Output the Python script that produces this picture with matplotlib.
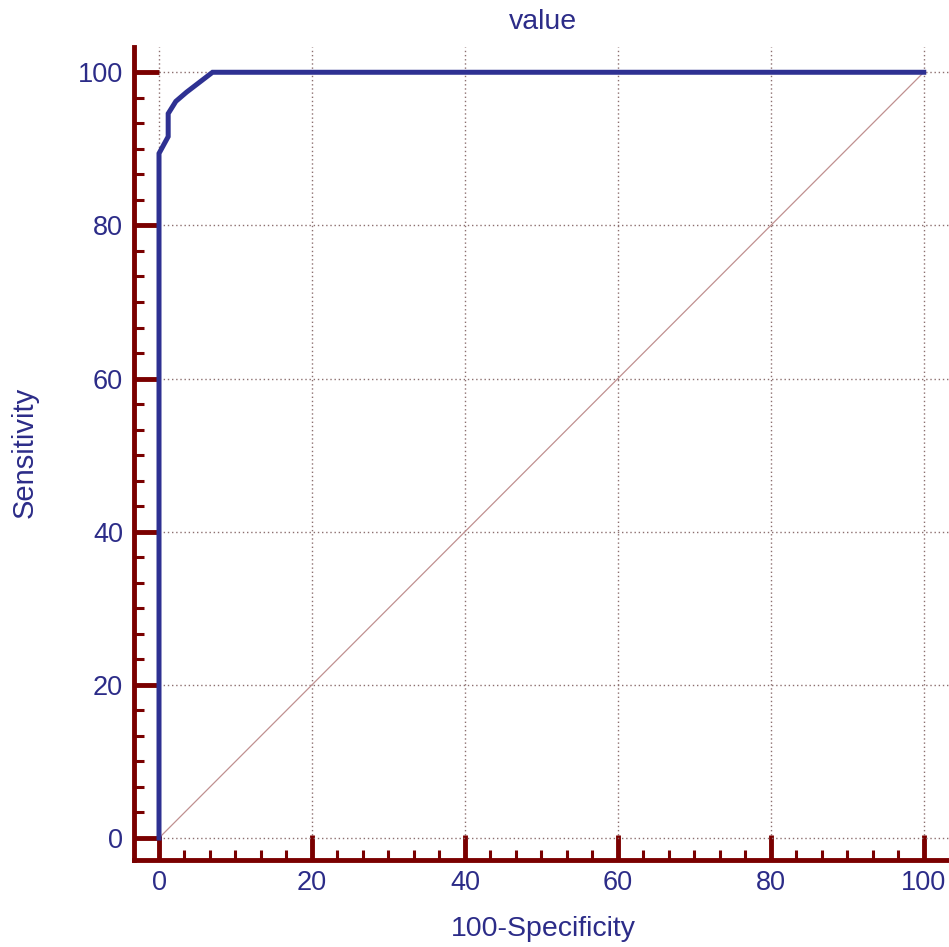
import matplotlib.pyplot as plt
from matplotlib.ticker import MultipleLocator

# ROC curve points (100-Specificity, Sensitivity)
fpr = [0, 0, 1.2, 1.2, 2.2, 3.6, 7.0, 100]
tpr = [0, 89.4, 91.6, 94.6, 96.2, 97.4, 100, 100]
major_ticks = [0, 20, 40, 60, 80, 100]

navy = "#2e3192"
maroon = "#7a0000"
text_col = "#2c2c88"

plt.rcParams["font.family"] = ["Liberation Sans", "DejaVu Sans"]

fig = plt.figure(figsize=(9.49, 9.47), dpi=100)
ax = fig.add_axes([134 / 949, 87 / 947, 1 - 134 / 949, (860 - 47) / 947])

ax.set_xlim(-3.27, 103.3)
ax.set_ylim(-2.87, 103.3)

ax.grid(True, which="major", linestyle=(0, (1, 2)), color="#8c6f6f", linewidth=1.0)
ax.plot([0, 100], [0, 100], color="#c09090", linewidth=0.9, zorder=2)
ax.plot(fpr, tpr, color=navy, linewidth=3.6, solid_joinstyle="miter", zorder=3)

ax.set_xticks(major_ticks)
ax.set_yticks(major_ticks)
ax.xaxis.set_minor_locator(MultipleLocator(20 / 6))
ax.yaxis.set_minor_locator(MultipleLocator(20 / 6))

for side in ["top", "right"]:
    ax.spines[side].set_visible(False)
for side in ["left", "bottom"]:
    ax.spines[side].set_color(maroon)
    ax.spines[side].set_linewidth(3.5)

ax.tick_params(which="major", direction="in", length=18, width=3.5, color=maroon,
               labelsize=19.5, labelcolor=text_col)
ax.tick_params(which="minor", direction="in", length=7, width=2.2, color=maroon)
ax.tick_params(axis="y", which="major", pad=8)
ax.tick_params(axis="x", which="major", pad=7)

fig.text(543 / 949, 1 - 22 / 947, "value", ha="center", va="center",
         fontsize=20.5, color=text_col)
fig.text(543 / 949, 1 - 929 / 947, "100-Specificity", ha="center", va="center",
         fontsize=20.5, color=text_col)
fig.text(25 / 949, 1 - 452 / 947, "Sensitivity", ha="center", va="center",
         fontsize=21, color=text_col, rotation=90)

fig.savefig("out.png", dpi=100)
